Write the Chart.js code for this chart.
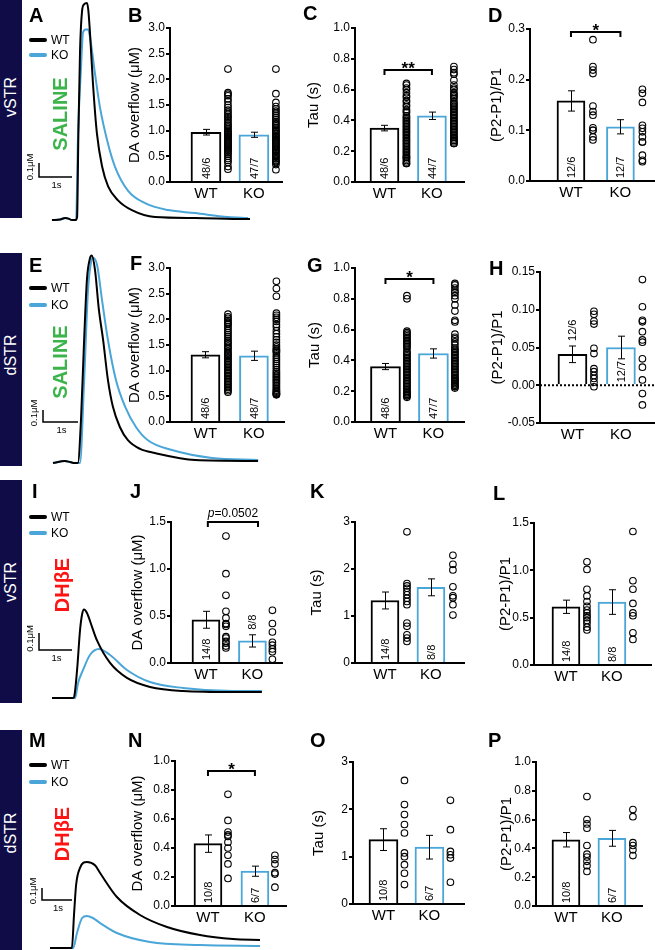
<!DOCTYPE html>
<html>
<head>
<meta charset="utf-8">
<script src="https://cdn.jsdelivr.net/npm/chart.js@4.4.0/dist/chart.umd.min.js"></script>
<style>
  body { margin: 0; background: #fff; width: 655px; height: 950px; position: relative; overflow: hidden;
         font-family: "Liberation Sans", Arial, Helvetica, sans-serif; }
  canvas { position: absolute; }
  .side { position: absolute; left: 0; width: 22px; background: #100c47; }
  .rot { position: absolute; transform: translate(-50%, -50%) rotate(-90deg); white-space: nowrap; }
  .letter { position: absolute; font-weight: bold; font-size: 20px; line-height: 20px; }
  .lg { position: absolute; font-size: 12px; line-height: 12px; }
  .lgline { position: absolute; height: 4px; width: 18px; border-radius: 2px; }
</style>
</head>
<body>
<script>
const BLUE = '#4aa6d8';
const groups = ['WT', 'KO'];

// traces [time (s), DA (uM)]
const traceVsSalWT = [[0,0],[0.25,0.004],[0.4,0.014],[0.5,0.01],[0.6,0],[0.72,0],[0.76,0.02],[0.8,0.62],[0.85,1.21],[0.91,1.49],[0.97,1.54],[1.06,1.55],[1.1,1.5],[1.15,1.34],[1.24,0.98],[1.36,0.62],[1.52,0.38],[1.7,0.24],[2.0,0.14],[2.42,0.07],[3.12,0.021],[4.33,0.014],[5.85,0.007],[6.0,0.007]];
const traceVsSalKO = [[0,0],[0.25,0.004],[0.4,0.014],[0.5,0.01],[0.6,0],[0.73,0],[0.79,0.62],[0.88,1.09],[0.94,1.34],[1.03,1.36],[1.09,1.36],[1.15,1.31],[1.3,1.05],[1.45,0.81],[1.67,0.57],[1.91,0.38],[2.3,0.21],[2.82,0.12],[3.52,0.071],[4.33,0.05],[5.33,0.021],[5.94,0.014]];
const traceDsSalWT = [[0,0],[0.34,0.017],[0.49,0.008],[0.63,0],[0.71,0],[0.8,0.36],[0.89,1.03],[0.97,1.53],[1.06,1.71],[1.11,1.73],[1.2,1.61],[1.31,1.28],[1.43,1.03],[1.57,0.69],[1.71,0.47],[1.91,0.3],[2.14,0.19],[2.49,0.117],[2.91,0.083],[4.06,0.025],[5.86,0.017]];
const traceDsSalKO = [[0,0],[0.34,0.017],[0.49,0.008],[0.63,0],[0.77,0],[0.89,0.69],[1.0,1.44],[1.09,1.68],[1.14,1.71],[1.26,1.65],[1.4,1.36],[1.57,1.025],[1.8,0.69],[2.06,0.47],[2.37,0.3],[2.71,0.19],[3.4,0.108],[4.54,0.042],[5.86,0.025]];
const traceVsDhWT = [[0,0],[0.64,0],[0.67,0.006],[0.76,0.165],[0.85,0.4],[0.91,0.49],[0.97,0.52],[1.06,0.5],[1.21,0.42],[1.36,0.34],[1.76,0.206],[2.27,0.118],[2.97,0.065],[3.97,0.041],[5.48,0.035],[6.36,0.035]];
const traceVsDhKO = [[0,0],[0.7,0],[0.79,0.088],[0.94,0.165],[1.15,0.253],[1.42,0.288],[1.76,0.253],[2.27,0.165],[2.97,0.094],[3.97,0.059],[5.48,0.041],[6.36,0.041]];
const traceDsDhWT = [[0,0],[0.73,0],[0.8,0.275],[0.87,0.525],[1.0,0.667],[1.23,0.717],[1.5,0.69],[1.67,0.625],[2.23,0.425],[3.0,0.275],[3.9,0.175],[5.0,0.108],[6.1,0.075],[7.0,0.067]];
const traceDsDhKO = [[0,0],[0.77,0],[0.9,0.125],[1.07,0.25],[1.23,0.267],[1.43,0.25],[1.67,0.208],[2.23,0.125],[3.33,0.05],[5.0,0.025],[7.0,0.017]];

// B: vSTR saline DA overflow
const daVsSalMean = [0.97, 0.92];
const daVsSalSem = [0.055, 0.05];
const daVsSalN = ['48/6', '47/7'];
const daVsSalWT = [2.2,1.74,1.71,1.68,1.62,1.57,1.5,1.45,1.4,1.36,1.32,1.28,1.25,1.21,1.17,1.13,1.1,1.07,1.04,1.01,0.98,0.96,0.94,0.92,0.9,0.88,0.86,0.84,0.82,0.8,0.78,0.76,0.74,0.72,0.7,0.68,0.66,0.64,0.62,0.6,0.57,0.54,0.5,0.46,0.42,0.38,0.3,0.25];
const daVsSalKO = [2.2,1.72,1.55,1.47,1.42,1.38,1.34,1.3,1.26,1.22,1.18,1.15,1.12,1.09,1.06,1.03,1.0,0.98,0.95,0.93,0.9,0.88,0.86,0.84,0.82,0.8,0.78,0.76,0.74,0.72,0.7,0.68,0.66,0.64,0.62,0.6,0.58,0.55,0.52,0.5,0.48,0.45,0.42,0.4,0.38,0.34,0.24];

// C: vSTR saline tau
const tauVsSalMean = [0.35, 0.43];
const tauVsSalSem = [0.018, 0.024];
const tauVsSalN = ['48/6', '44/7'];
const tauVsSalWT = [0.64,0.63,0.61,0.6,0.58,0.56,0.55,0.53,0.52,0.5,0.49,0.47,0.46,0.45,0.43,0.42,0.41,0.4,0.39,0.38,0.37,0.36,0.35,0.34,0.33,0.32,0.31,0.3,0.29,0.28,0.27,0.26,0.25,0.24,0.23,0.22,0.21,0.2,0.19,0.18,0.17,0.16,0.16,0.15,0.14,0.13,0.12,0.12];
const tauVsSalKO = [0.75,0.73,0.71,0.7,0.66,0.63,0.61,0.6,0.58,0.57,0.56,0.55,0.54,0.52,0.51,0.5,0.49,0.48,0.47,0.46,0.45,0.44,0.43,0.42,0.41,0.4,0.39,0.38,0.37,0.36,0.35,0.34,0.33,0.32,0.31,0.3,0.29,0.29,0.28,0.27,0.27,0.26,0.25,0.25];

// D: vSTR saline paired pulse
const ppVsSalMean = [0.158, 0.107];
const ppVsSalSem = [0.02, 0.014];
const ppVsSalN = ['12/6', '12/7'];
const ppVsSalWT = [0.279,0.226,0.219,0.212,0.148,0.137,0.13,0.105,0.1,0.1,0.087,0.081];
const ppVsSalKO = [0.181,0.173,0.155,0.11,0.104,0.097,0.087,0.077,0.077,0.051,0.041,0.038];

// F: dSTR saline DA overflow
const daDsSalMean = [1.31, 1.29];
const daDsSalSem = [0.06, 0.09];
const daDsSalN = ['48/6', '48/7'];
const daDsSalWT = [2.1,2.05,2.02,1.98,1.95,1.92,1.9,1.86,1.82,1.78,1.74,1.7,1.66,1.62,1.58,1.55,1.52,1.48,1.45,1.42,1.38,1.35,1.32,1.3,1.27,1.24,1.21,1.18,1.15,1.12,1.09,1.06,1.03,1.0,0.97,0.94,0.91,0.88,0.85,0.82,0.79,0.76,0.73,0.7,0.67,0.64,0.61,0.58];
const daDsSalKO = [2.74,2.6,2.45,2.12,2.08,2.04,2.0,1.96,1.9,1.85,1.78,1.72,1.66,1.6,1.55,1.5,1.46,1.42,1.4,1.38,1.35,1.3,1.26,1.22,1.18,1.14,1.1,1.06,1.02,0.98,0.95,0.92,0.89,0.86,0.83,0.8,0.77,0.74,0.71,0.68,0.65,0.62,0.6,0.58,0.56,0.55,0.54,0.53];

// G: dSTR saline tau
const tauDsSalMean = [0.36, 0.445];
const tauDsSalSem = [0.02, 0.03];
const tauDsSalN = ['48/6', '47/7'];
const tauDsSalWT = [0.82,0.8,0.59,0.58,0.57,0.56,0.55,0.54,0.53,0.52,0.51,0.5,0.49,0.48,0.46,0.45,0.44,0.43,0.42,0.41,0.4,0.39,0.38,0.37,0.36,0.35,0.34,0.33,0.32,0.31,0.3,0.29,0.28,0.27,0.26,0.25,0.24,0.23,0.22,0.21,0.2,0.19,0.19,0.18,0.18,0.17,0.17,0.16];
const tauDsSalKO = [0.9,0.89,0.87,0.85,0.84,0.82,0.8,0.76,0.72,0.66,0.65,0.57,0.55,0.54,0.52,0.5,0.48,0.47,0.46,0.45,0.44,0.43,0.42,0.41,0.4,0.39,0.38,0.37,0.36,0.35,0.34,0.33,0.32,0.31,0.3,0.29,0.28,0.28,0.27,0.26,0.26,0.25,0.24,0.24,0.23,0.23,0.22];

// H: dSTR saline paired pulse
const ppDsSalMean = [0.041, 0.05];
const ppDsSalSem = [0.011, 0.015];
const ppDsSalN = ['12/6', '12/7'];
const ppDsSalWT = [0.098,0.094,0.085,0.081,0.049,0.042,0.022,0.018,0.013,0.009,0.004,-0.002];
const ppDsSalKO = [0.14,0.104,0.086,0.084,0.071,0.06,0.057,0.035,0.024,0.007,-0.011,-0.026];

// J: vSTR DHbE DA overflow
const daVsDhMean = [0.46, 0.235];
const daVsDhSem = [0.09, 0.065];
const daVsDhN = ['14/8', '8/8'];
const daVsDhWT = [1.35,0.95,0.72,0.55,0.48,0.42,0.41,0.39,0.28,0.265,0.23,0.21,0.18,0.16];
const daVsDhKO = [0.56,0.42,0.33,0.22,0.19,0.15,0.12,0.04];

// K: vSTR DHbE tau
const tauVsDhMean = [1.33, 1.61];
const tauVsDhSem = [0.18, 0.18];
const tauVsDhN = ['14/8', '8/8'];
const tauVsDhWT = [2.79,1.69,1.64,1.59,1.52,1.45,1.38,1.31,1.24,0.85,0.78,0.6,0.53,0.46];
const tauVsDhKO = [2.29,2.1,1.98,1.62,1.43,1.39,1.24,1.02];

// L: vSTR DHbE paired pulse
const ppVsDhMean = [0.615, 0.665];
const ppVsDhSem = [0.07, 0.13];
const ppVsDhN = ['14/8', '8/8'];
const ppVsDhWT = [1.09,1.01,0.8,0.73,0.67,0.62,0.58,0.55,0.52,0.5,0.47,0.44,0.4,0.37];
const ppVsDhKO = [1.41,0.89,0.8,0.65,0.55,0.52,0.34,0.27];

// N: dSTR DHbE DA overflow
const daDsDhMean = [0.43, 0.24];
const daDsDhSem = [0.06, 0.035];
const daDsDhN = ['10/8', '6/7'];
const daDsDhWT = [0.77,0.59,0.51,0.49,0.48,0.44,0.4,0.35,0.29,0.19];
const daDsDhKO = [0.35,0.32,0.29,0.23,0.22,0.13];

// O: dSTR DHbE tau
const tauDsDhMean = [1.36, 1.2];
const tauDsDhSem = [0.23, 0.25];
const tauDsDhN = ['10/8', '6/7'];
const tauDsDhWT = [2.61,2.1,1.89,1.68,1.5,1.08,1.0,0.83,0.65,0.41];
const tauDsDhKO = [2.19,1.57,1.11,1.04,0.97,0.46];

// P: dSTR DHbE paired pulse
const ppDsDhMean = [0.46, 0.47];
const ppDsDhSem = [0.05, 0.055];
const ppDsDhN = ['10/8', '6/7'];
const ppDsDhWT = [0.76,0.6,0.57,0.54,0.42,0.36,0.34,0.31,0.28,0.24];
const ppDsDhKO = [0.67,0.62,0.44,0.42,0.39,0.35];

Chart.defaults.font.family = '"Liberation Sans", Arial, Helvetica, sans-serif';
Chart.defaults.color = '#000';
const FONT = '"Liberation Sans", Arial, Helvetica, sans-serif';

function addDiv(cls, css, text) {
  const d = document.createElement('div');
  d.className = cls;
  Object.assign(d.style, css);
  if (text) d.textContent = text;
  document.body.appendChild(d);
  return d;
}

function addCanvas(left, top, w, h) {
  const cv = document.createElement('canvas');
  cv.width = w; cv.height = h;
  cv.style.left = left + 'px'; cv.style.top = top + 'px';
  document.body.appendChild(cv);
  return cv;
}

// ---- trace panels (A, E, I, M)
const traceRows = [
  { top: 0,   h: 225, x0: 52, pxS: 33, base: 220, pxU: 140, wt: traceVsSalWT, ko: traceVsSalKO, bar: [39, 177] },
  { top: 245, h: 225, x0: 53, pxS: 35, base: 463, pxU: 120, wt: traceDsSalWT, ko: traceDsSalKO, bar: [43, 422] },
  { top: 475, h: 230, x0: 52, pxS: 33, base: 698, pxU: 170, wt: traceVsDhWT, ko: traceVsDhKO, bar: [39, 650] },
  { top: 725, h: 225, x0: 50, pxS: 30, base: 948, pxU: 120, wt: traceDsDhWT, ko: traceDsDhKO, bar: [42, 900] }
];

traceRows.forEach(r => {
  const L = 25, W = 240;
  const cv = addCanvas(L, r.top, W, r.h);
  // 1 s / 0.1 uM scale bar, lengths taken from the chart's own scales
  const scaleBar = {
    id: 'scaleBar',
    afterDraw(chart) {
      const { ctx, scales: { x, y } } = chart;
      const w = x.getPixelForValue(1) - x.getPixelForValue(0);
      const h = y.getPixelForValue(0) - y.getPixelForValue(0.1);
      const cx = r.bar[0] - L, cy = r.bar[1] - r.top;
      ctx.save();
      ctx.strokeStyle = '#000'; ctx.lineWidth = 1.5;
      ctx.beginPath();
      ctx.moveTo(cx, cy - h); ctx.lineTo(cx, cy); ctx.lineTo(cx + w, cy);
      ctx.stroke();
      ctx.fillStyle = '#000';
      ctx.font = '9.5px ' + FONT;
      ctx.textAlign = 'center'; ctx.textBaseline = 'middle';
      ctx.fillText('1s', cx + w / 2 + 1, cy + 8);
      ctx.translate(cx - 9, cy - h / 2 - 3);
      ctx.rotate(-Math.PI / 2);
      ctx.fillText('0.1\u03BCM', 0, 0);
      ctx.restore();
    }
  };
  new Chart(cv, {
    type: 'line',
    data: {
      datasets: [
        { data: r.wt.map(p => ({ x: p[0], y: p[1] })), borderColor: '#000', borderWidth: 2, pointRadius: 0, cubicInterpolationMode: 'monotone' },
        { data: r.ko.map(p => ({ x: p[0], y: p[1] })), borderColor: BLUE, borderWidth: 2, pointRadius: 0, cubicInterpolationMode: 'monotone' }
      ]
    },
    options: {
      responsive: false, animation: false, devicePixelRatio: 1,
      layout: { padding: 0 },
      plugins: { legend: { display: false }, tooltip: { enabled: false } },
      scales: {
        x: { type: 'linear', display: false, min: (L - r.x0) / r.pxS, max: (L + W - r.x0) / r.pxS },
        y: { display: false, min: -(r.top + r.h - r.base) / r.pxU, max: (r.base - r.top) / r.pxU }
      }
    },
    plugins: [scaleBar]
  });
});

// ---- bar panels
const DA = 'DA overflow (\u03BCM)', TAU = 'Tau (s)', PP = '(P2-P1)/P1';
const panels = [
  { axisX: 170, rightX: 283, yTop: 28, yBot: 182, wtC: 206, koC: 254, dotOff: 22, barW: 30, titleX: 135, title: DA, min: 0, max: 3, step: 0.5, dec: 1,
    mean: daVsSalMean, sem: daVsSalSem, n: daVsSalN, wt: daVsSalWT, ko: daVsSalKO },
  { axisX: 355, rightX: 465, yTop: 28, yBot: 182, wtC: 384.5, koC: 432, dotOff: 22, barW: 29, titleX: 314, title: TAU, min: 0, max: 1, step: 0.2, dec: 1,
    mean: tauVsSalMean, sem: tauVsSalSem, n: tauVsSalN, wt: tauVsSalWT, ko: tauVsSalKO, sig: { y: 0.73, x1: 0, x2: 1, text: '**' } },
  { axisX: 530, rightX: 655, yTop: 29, yBot: 181, wtC: 571, koC: 620.5, dotOff: 22, barW: 28, titleX: 497, title: PP, min: 0, max: 0.3, step: 0.1, dec: 1,
    mean: ppVsSalMean, sem: ppVsSalSem, n: ppVsSalN, wt: ppVsSalWT, ko: ppVsSalKO, sig: { y: 0.295, x1: 0, x2: 1, text: '*' } },

  { axisX: 170, rightX: 285, yTop: 268, yBot: 422, wtC: 205.5, koC: 254, dotOff: 22.5, barW: 29, titleX: 135, title: DA, min: 0, max: 3, step: 0.5, dec: 1,
    mean: daDsSalMean, sem: daDsSalSem, n: daDsSalN, wt: daDsSalWT, ko: daDsSalKO },
  { axisX: 355, rightX: 465, yTop: 268, yBot: 422, wtC: 385.5, koC: 433.5, dotOff: 21.5, barW: 30, titleX: 315, title: TAU, min: 0, max: 1, step: 0.2, dec: 1,
    mean: tauDsSalMean, sem: tauDsSalSem, n: tauDsSalN, wt: tauDsSalWT, ko: tauDsSalKO, sig: { y: 0.93, x1: 0, x2: 1, text: '*' } },
  { axisX: 540, rightX: 655, yTop: 272, yBot: 423, wtC: 572.5, koC: 621, dotOff: 21.5, barW: 29, titleX: 498, title: PP, min: -0.05, max: 0.15, step: 0.05, dec: 2,
    mean: ppDsSalMean, sem: ppDsSalSem, n: ppDsSalN, wt: ppDsSalWT, ko: ppDsSalKO, nAbove: [true, false], zeroLine: true },

  { axisX: 171, rightX: 283, yTop: 522, yBot: 663, wtC: 206, koC: 252.5, dotOff: 20, barW: 28, titleX: 138, title: DA, min: 0, max: 1.5, step: 0.5, dec: 1,
    mean: daVsDhMean, sem: daVsDhSem, n: daVsDhN, wt: daVsDhWT, ko: daVsDhKO, nAbove: [false, true], sig: { y: 1.5, x1: 0.04, x2: 1.12, text: 'p=0.0502' } },
  { axisX: 355, rightX: 465, yTop: 522, yBot: 663, wtC: 385, koC: 431, dotOff: 22, barW: 28, titleX: 317, title: TAU, min: 0, max: 3, step: 1, dec: 0,
    mean: tauVsDhMean, sem: tauVsDhSem, n: tauVsDhN, wt: tauVsDhWT, ko: tauVsDhKO },
  { axisX: 534, rightX: 652, yTop: 523, yBot: 665, wtC: 566, koC: 612, dotOff: 21, barW: 28, titleX: 506, title: PP, min: 0, max: 1.5, step: 0.5, dec: 1,
    mean: ppVsDhMean, sem: ppVsDhSem, n: ppVsDhN, wt: ppVsDhWT, ko: ppVsDhKO },

  { axisX: 175, rightX: 287, yTop: 761, yBot: 906, wtC: 208, koC: 255, dotOff: 20, barW: 28, titleX: 138, title: DA, min: 0, max: 1, step: 0.2, dec: 1,
    mean: daDsDhMean, sem: daDsDhSem, n: daDsDhN, wt: daDsDhWT, ko: daDsDhKO, sig: { y: 0.93, x1: 0, x2: 1, text: '*' } },
  { axisX: 353, rightX: 465, yTop: 762, yBot: 904, wtC: 383.5, koC: 429.5, dotOff: 21, barW: 29, titleX: 319, title: TAU, min: 0, max: 3, step: 1, dec: 0,
    mean: tauDsDhMean, sem: tauDsDhSem, n: tauDsDhN, wt: tauDsDhWT, ko: tauDsDhKO },
  { axisX: 536, rightX: 643, yTop: 762, yBot: 906, wtC: 566, koC: 612, dotOff: 21, barW: 28, titleX: 507, title: PP, min: 0, max: 1, step: 0.2, dec: 1,
    mean: ppDsDhMean, sem: ppDsDhSem, n: ppDsDhN, wt: ppDsDhWT, ko: ppDsDhKO }
];

// error bars, n labels, significance brackets, dotted zero line
function extras(p) {
  return {
    id: 'extras',
    afterDatasetsDraw(chart) {
      const { ctx, chartArea, scales: { x, y } } = chart;
      const base = y.getPixelForValue(0);
      ctx.save();
      ctx.strokeStyle = '#000'; ctx.fillStyle = '#000';
      if (p.zeroLine) {
        ctx.lineWidth = 2; ctx.setLineDash([2, 2]);
        ctx.beginPath(); ctx.moveTo(chartArea.left, base); ctx.lineTo(chartArea.right, base); ctx.stroke();
        ctx.setLineDash([]);
      }
      p.mean.forEach((m, i) => {
        const cx = Math.round(x.getPixelForValue(i)) + 0.5;
        const hi = y.getPixelForValue(m + p.sem[i]);
        const lo = y.getPixelForValue(m - p.sem[i]);
        ctx.lineWidth = 1;
        ctx.beginPath();
        ctx.moveTo(cx, hi); ctx.lineTo(cx, lo);
        ctx.moveTo(cx - 3.5, hi); ctx.lineTo(cx + 3.5, hi);
        ctx.moveTo(cx - 3.5, lo); ctx.lineTo(cx + 3.5, lo);
        ctx.stroke();
        ctx.save();
        ctx.font = '11px ' + FONT;
        ctx.translate(cx, (p.nAbove && p.nAbove[i]) ? hi - 5 : base - 3);
        ctx.rotate(-Math.PI / 2);
        ctx.textAlign = 'left'; ctx.textBaseline = 'middle';
        ctx.fillText(p.n[i], 0, 0);
        ctx.restore();
      });
      if (p.sig) {
        const s = p.sig;
        const by = Math.round(y.getPixelForValue(s.y));
        const x1 = x.getPixelForValue(s.x1), x2 = x.getPixelForValue(s.x2);
        ctx.lineWidth = 2;
        ctx.beginPath();
        ctx.moveTo(x1, by + 5); ctx.lineTo(x1, by); ctx.lineTo(x2, by); ctx.lineTo(x2, by + 5);
        ctx.stroke();
        const mx = (x1 + x2) / 2;
        if (s.text.startsWith('p=')) {
          const it = 'italic 12px ' + FONT, nf = '12px ' + FONT;
          ctx.font = it; const w1 = ctx.measureText('p').width;
          ctx.font = nf; const w2 = ctx.measureText(s.text.slice(1)).width;
          const sx = mx - (w1 + w2) / 2;
          ctx.textAlign = 'left'; ctx.textBaseline = 'alphabetic';
          ctx.font = it; ctx.fillText('p', sx, by - 5);
          ctx.font = nf; ctx.fillText(s.text.slice(1), sx + w1, by - 5);
        } else {
          ctx.font = 'bold 17px ' + FONT;
          ctx.textAlign = 'center'; ctx.textBaseline = 'alphabetic';
          ctx.fillText(s.text, mx, by + 4);
        }
      }
      ctx.restore();
    }
  };
}

panels.forEach(p => {
  const L = p.titleX - 9;
  const T = p.yTop - 22;
  const W = p.rightX - L + 5;
  const H = p.yBot - T + 28;
  const cv = addCanvas(L, T, W, H);
  const unit = p.koC - p.wtC;
  const off = p.dotOff / unit;
  const dot = { type: 'scatter', pointRadius: 3.3, pointBorderWidth: 1.1, pointBorderColor: '#000',
                pointBackgroundColor: 'rgba(255,255,255,0)', clip: false };
  new Chart(cv, {
    type: 'scatter',
    data: {
      datasets: [
        { type: 'bar', data: p.mean.map((m, i) => ({ x: i, y: m })), backgroundColor: '#fff',
          borderColor: ['#000', BLUE], borderWidth: 2, barThickness: p.barW },
        Object.assign({ data: p.wt.map(v => ({ x: off, y: v })) }, dot),
        Object.assign({ data: p.ko.map(v => ({ x: 1 + off, y: v })) }, dot)
      ]
    },
    options: {
      responsive: false, animation: false, devicePixelRatio: 1,
      layout: { padding: { top: 22, right: 1, left: 0, bottom: 0 } },
      plugins: { legend: { display: false }, tooltip: { enabled: false } },
      scales: {
        x: {
          type: 'linear', offset: false, bounds: 'data', min: (p.axisX - p.wtC) / unit, max: (p.rightX - p.wtC) / unit,
          afterBuildTicks: s => { s.ticks = [{ value: 0 }, { value: 1 }]; },
          afterFit: s => { s.height = 28; },
          ticks: { callback: v => groups[Math.round(v)], font: { size: 15 }, color: '#000', padding: 3, autoSkip: false, maxRotation: 0 },
          grid: { display: false, drawTicks: false, offset: false },
          border: { color: '#000', width: 2 }
        },
        y: {
          type: 'linear', min: p.min, max: p.max,
          afterFit: s => { s.width = p.axisX - L; },
          ticks: { stepSize: p.step, callback: v => Number(v).toFixed(p.dec), font: { size: 12 }, color: '#000', padding: 1 },
          grid: { drawOnChartArea: false, tickLength: 4, color: '#000', lineWidth: 2 },
          border: { color: '#000', width: 2 },
          title: { display: true, text: p.title, font: { size: 15 }, color: '#000', padding: 0 }
        }
      }
    },
    plugins: [extras(p)]
  });
});

// ---- side labels, letters, legends
const rows = [
  { side: [0, 218],   region: 'vSTR', regionY: 97,  drug: 'SALINE', drugColor: '#3cb44b', drugX: 60, drugY: 114, lg: [40, 55] },
  { side: [253, 466], region: 'dSTR', regionY: 355, drug: 'SALINE', drugColor: '#3cb44b', drugX: 60, drugY: 362, lg: [288, 305] },
  { side: [480, 703], region: 'vSTR', regionY: 582, drug: 'DH\u03B2E', drugColor: '#ff1414', drugX: 62, drugY: 585, lg: [517, 533] },
  { side: [730, 950], region: 'dSTR', regionY: 833, drug: 'DH\u03B2E', drugColor: '#ff1414', drugX: 62, drugY: 834, lg: [765, 782] }
];
rows.forEach(r => {
  addDiv('side', { top: r.side[0] + 'px', height: (r.side[1] - r.side[0]) + 'px' });
  addDiv('rot', { left: '11px', top: r.regionY + 'px', color: '#fff', fontSize: '16px' }, r.region);
  addDiv('rot', { left: r.drugX + 'px', top: r.drugY + 'px', color: r.drugColor, fontSize: '20px', fontWeight: 'bold' }, r.drug);
  [['WT', '#000'], ['KO', BLUE]].forEach((g, i) => {
    const yy = r.lg[i];
    addDiv('lgline', { left: '29px', top: (yy - 2) + 'px', background: g[1] });
    addDiv('lg', { left: '51px', top: (yy - 6) + 'px' }, g[0]);
  });
});

const letters = [['A',29,7],['B',128,7],['C',303,5],['D',488,7],['E',29,257],['F',130,255],['G',307,257],['H',489,260],
                 ['I',32,483],['J',130,483],['K',310,483],['L',493,485],['M',29,732],['N',128,732],['O',310,732],['P',488,732]];
letters.forEach(l => addDiv('letter', { left: l[1] + 'px', top: (l[2] - 2) + 'px' }, l[0]));
</script>
</body>
</html>
